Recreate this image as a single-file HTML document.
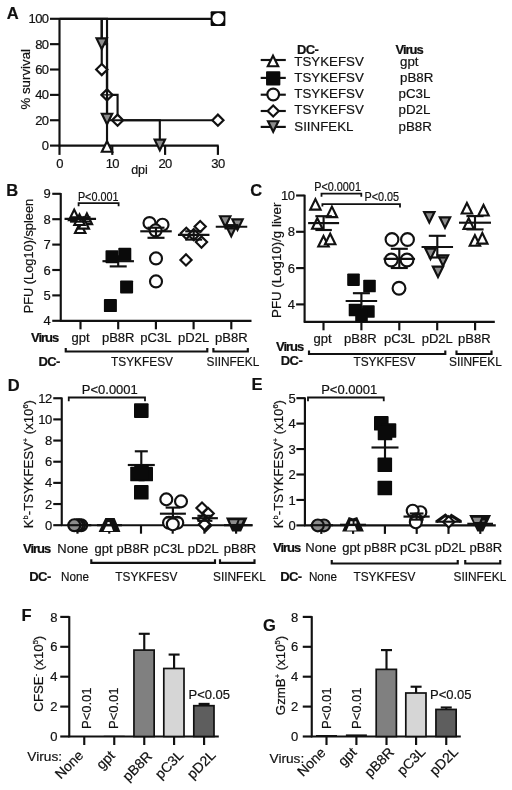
<!DOCTYPE html>
<html><head><meta charset="utf-8"><title>Figure</title>
<style>
html,body{margin:0;padding:0;background:#fff;}
body{width:512px;height:790px;overflow:hidden;font-family:"Liberation Sans",sans-serif;}
svg{display:block;}
svg{filter:grayscale(1);}
svg text{font-family:"Liberation Sans",sans-serif;fill:#111;stroke:#111;stroke-width:0.2px;}
</style></head><body>
<svg width="512" height="790" viewBox="0 0 512 790">
<rect width="512" height="790" fill="#fff"/>
<text transform="translate(6.8,19.2)" font-size="16.5" text-anchor="start" font-weight="bold">A</text>
<line x1="59.5" y1="18.05" x2="59.5" y2="146.35" stroke="#111" stroke-width="2.15" stroke-linecap="butt"/>
<line x1="58.75" y1="145.6" x2="218.65" y2="145.6" stroke="#111" stroke-width="2.15" stroke-linecap="butt"/>
<line x1="50" y1="145.6" x2="59.5" y2="145.6" stroke="#111" stroke-width="2.15" stroke-linecap="butt"/>
<text transform="translate(48.5,150.2)" font-size="13" text-anchor="end" letter-spacing="-0.6">0</text>
<line x1="50" y1="120.24" x2="59.5" y2="120.24" stroke="#111" stroke-width="2.15" stroke-linecap="butt"/>
<text transform="translate(48.5,124.84)" font-size="13" text-anchor="end" letter-spacing="-0.6">20</text>
<line x1="50" y1="94.88" x2="59.5" y2="94.88" stroke="#111" stroke-width="2.15" stroke-linecap="butt"/>
<text transform="translate(48.5,99.48)" font-size="13" text-anchor="end" letter-spacing="-0.6">40</text>
<line x1="50" y1="69.52" x2="59.5" y2="69.52" stroke="#111" stroke-width="2.15" stroke-linecap="butt"/>
<text transform="translate(48.5,74.12)" font-size="13" text-anchor="end" letter-spacing="-0.6">60</text>
<line x1="50" y1="44.16" x2="59.5" y2="44.16" stroke="#111" stroke-width="2.15" stroke-linecap="butt"/>
<text transform="translate(48.5,48.76)" font-size="13" text-anchor="end" letter-spacing="-0.6">80</text>
<line x1="50" y1="18.8" x2="59.5" y2="18.8" stroke="#111" stroke-width="2.15" stroke-linecap="butt"/>
<text transform="translate(48.5,23.4)" font-size="13" text-anchor="end" letter-spacing="-0.6">100</text>
<line x1="59.5" y1="145.6" x2="59.5" y2="154.9" stroke="#111" stroke-width="2.15" stroke-linecap="butt"/>
<text transform="translate(59.5,168.4)" font-size="13" text-anchor="middle" letter-spacing="-0.6">0</text>
<line x1="112.3" y1="145.6" x2="112.3" y2="154.9" stroke="#111" stroke-width="2.15" stroke-linecap="butt"/>
<text transform="translate(112.3,168.4)" font-size="13" text-anchor="middle" letter-spacing="-0.6">10</text>
<line x1="165.1" y1="145.6" x2="165.1" y2="154.9" stroke="#111" stroke-width="2.15" stroke-linecap="butt"/>
<text transform="translate(165.1,168.4)" font-size="13" text-anchor="middle" letter-spacing="-0.6">20</text>
<line x1="217.9" y1="145.6" x2="217.9" y2="154.9" stroke="#111" stroke-width="2.15" stroke-linecap="butt"/>
<text transform="translate(217.9,168.4)" font-size="13" text-anchor="middle" letter-spacing="-0.6">30</text>
<text transform="translate(29.6,79.3) rotate(-90)" font-size="13.3" text-anchor="middle">% survival</text>
<text transform="translate(139.5,173.5)" font-size="12.5" text-anchor="middle">dpi</text>
<path d="M59.5 18.8H107.02V145.6" stroke="#111" stroke-width="2.15" fill="none" stroke-linejoin="miter"/>
<path d="M101.82 151.75L112.22 151.75L107.02 141.2Z" stroke="#111" stroke-width="2.15" fill="#fff" stroke-linejoin="miter"/>
<line x1="59.5" y1="18.8" x2="217.9" y2="18.8" stroke="#111" stroke-width="2.15" stroke-linecap="butt"/>
<rect x="210.65" y="11.25" width="14.7" height="14.7" fill="#0a0a0a" rx="0.9"/>
<circle cx="218.1" cy="18.6" r="5.7" fill="#fff"/>
<path d="M101.74 18.8V69.52H107.02V94.88H117.58V120.24H217.9" stroke="#111" stroke-width="2.15" fill="none" stroke-linejoin="miter"/>
<path d="M96.14 69.52L101.74 63.92L107.34 69.52L101.74 75.12Z" stroke="#111" stroke-width="2.15" fill="#fff" stroke-linejoin="miter"/>
<path d="M101.42 94.88L107.02 89.28L112.62 94.88L107.02 100.48Z" stroke="#111" stroke-width="2.15" fill="#fff" stroke-linejoin="miter"/>
<path d="M111.98 120.24L117.58 114.64L123.18 120.24L117.58 125.84Z" stroke="#111" stroke-width="2.15" fill="#fff" stroke-linejoin="miter"/>
<path d="M212.3 120.24L217.9 114.64L223.5 120.24L217.9 125.84Z" stroke="#111" stroke-width="2.15" fill="#fff" stroke-linejoin="miter"/>
<line x1="102.02" y1="94.88" x2="112.02" y2="94.88" stroke="#111" stroke-width="1.4" stroke-linecap="butt"/>
<path d="M101.74 18.8V44.16H107.02V120.24H159.82V145.6" stroke="#111" stroke-width="2.15" fill="none" stroke-linejoin="miter"/>
<path d="M96.54 38.41L106.94 38.41L101.74 48.96Z" stroke="#111" stroke-width="2.15" fill="#8c8c8c" stroke-linejoin="miter"/>
<path d="M101.82 113.79L112.22 113.79L107.02 124.34Z" stroke="#111" stroke-width="2.15" fill="#8c8c8c" stroke-linejoin="miter"/>
<path d="M154.62 139.65L165.02 139.65L159.82 150.2Z" stroke="#111" stroke-width="2.15" fill="#8c8c8c" stroke-linejoin="miter"/>
<text transform="translate(297,54.3)" font-size="13" text-anchor="start" font-weight="bold" letter-spacing="-0.6">DC-</text>
<text transform="translate(395.5,54.3)" font-size="13" text-anchor="start" font-weight="bold" letter-spacing="-1">Virus</text>
<line x1="260.7" y1="60" x2="285.8" y2="60" stroke="#111" stroke-width="2.15" stroke-linecap="butt"/>
<line x1="260.7" y1="77.9" x2="285.8" y2="77.9" stroke="#111" stroke-width="2.15" stroke-linecap="butt"/>
<line x1="260.7" y1="94.7" x2="285.8" y2="94.7" stroke="#111" stroke-width="2.15" stroke-linecap="butt"/>
<line x1="260.7" y1="111" x2="285.8" y2="111" stroke="#111" stroke-width="2.15" stroke-linecap="butt"/>
<line x1="260.7" y1="126.9" x2="285.8" y2="126.9" stroke="#111" stroke-width="2.15" stroke-linecap="butt"/>
<path d="M267.8 66.25L278.2 66.25L273 55.7Z" stroke="#111" stroke-width="2.15" fill="#fff" stroke-linejoin="miter"/>
<rect x="266.05" y="71.15" width="14.3" height="14.3" fill="#0a0a0a" rx="0.9"/>
<circle cx="273.2" cy="94.5" r="5.85" fill="#fff" stroke="#111" stroke-width="2.15"/>
<path d="M267.6 111L273.2 105.4L278.8 111L273.2 116.6Z" stroke="#111" stroke-width="2.15" fill="#fff" stroke-linejoin="miter"/>
<path d="M268 121.25L278.4 121.25L273.2 131.8Z" stroke="#111" stroke-width="2.15" fill="#8c8c8c" stroke-linejoin="miter"/>
<text transform="translate(294.3,65.8)" font-size="13.3" text-anchor="start">TSYKEFSV</text>
<text transform="translate(400,65.8)" font-size="13.3" text-anchor="start">gpt</text>
<text transform="translate(294.3,82)" font-size="13.3" text-anchor="start">TSYKEFSV</text>
<text transform="translate(400,82)" font-size="13.3" text-anchor="start">pB8R</text>
<text transform="translate(294.3,98.2)" font-size="13.3" text-anchor="start">TSYKEFSV</text>
<text transform="translate(398.5,98.2)" font-size="13.3" text-anchor="start">pC3L</text>
<text transform="translate(294.3,114.4)" font-size="13.3" text-anchor="start">TSYKEFSV</text>
<text transform="translate(398.5,114.4)" font-size="13.3" text-anchor="start">pD2L</text>
<text transform="translate(294.3,130.6)" font-size="13.3" text-anchor="start">SIINFEKL</text>
<text transform="translate(398.5,130.6)" font-size="13.3" text-anchor="start">pB8R</text>
<text transform="translate(6.3,196.3)" font-size="16.5" text-anchor="start" font-weight="bold">B</text>
<line x1="60.75" y1="193.05" x2="60.75" y2="321.55" stroke="#111" stroke-width="2.15" stroke-linecap="butt"/>
<line x1="60" y1="320.8" x2="251.5" y2="320.8" stroke="#111" stroke-width="2.15" stroke-linecap="butt"/>
<line x1="52.25" y1="320.8" x2="60.75" y2="320.8" stroke="#111" stroke-width="2.15" stroke-linecap="butt"/>
<text transform="translate(50.75,325.4)" font-size="13" text-anchor="end">4</text>
<line x1="52.25" y1="295.4" x2="60.75" y2="295.4" stroke="#111" stroke-width="2.15" stroke-linecap="butt"/>
<text transform="translate(50.75,300)" font-size="13" text-anchor="end">5</text>
<line x1="52.25" y1="270" x2="60.75" y2="270" stroke="#111" stroke-width="2.15" stroke-linecap="butt"/>
<text transform="translate(50.75,274.6)" font-size="13" text-anchor="end">6</text>
<line x1="52.25" y1="244.6" x2="60.75" y2="244.6" stroke="#111" stroke-width="2.15" stroke-linecap="butt"/>
<text transform="translate(50.75,249.2)" font-size="13" text-anchor="end">7</text>
<line x1="52.25" y1="219.2" x2="60.75" y2="219.2" stroke="#111" stroke-width="2.15" stroke-linecap="butt"/>
<text transform="translate(50.75,223.8)" font-size="13" text-anchor="end">8</text>
<line x1="52.25" y1="193.8" x2="60.75" y2="193.8" stroke="#111" stroke-width="2.15" stroke-linecap="butt"/>
<text transform="translate(50.75,198.4)" font-size="13" text-anchor="end">9</text>
<text transform="translate(33.4,256.1) rotate(-90)" font-size="12.8" text-anchor="middle">PFU (Log10)/spleen</text>
<line x1="80.5" y1="320.8" x2="80.5" y2="329.3" stroke="#111" stroke-width="2.15" stroke-linecap="butt"/>
<text transform="translate(80.5,341.9)" font-size="13" text-anchor="middle">gpt</text>
<line x1="118.2" y1="320.8" x2="118.2" y2="329.3" stroke="#111" stroke-width="2.15" stroke-linecap="butt"/>
<text transform="translate(118.2,341.9)" font-size="13" text-anchor="middle">pB8R</text>
<line x1="155.9" y1="320.8" x2="155.9" y2="329.3" stroke="#111" stroke-width="2.15" stroke-linecap="butt"/>
<text transform="translate(155.9,341.9)" font-size="13" text-anchor="middle">pC3L</text>
<line x1="193.6" y1="320.8" x2="193.6" y2="329.3" stroke="#111" stroke-width="2.15" stroke-linecap="butt"/>
<text transform="translate(193.6,341.9)" font-size="13" text-anchor="middle">pD2L</text>
<line x1="231.3" y1="320.8" x2="231.3" y2="329.3" stroke="#111" stroke-width="2.15" stroke-linecap="butt"/>
<text transform="translate(231.3,341.9)" font-size="13" text-anchor="middle">pB8R</text>
<text transform="translate(31,341.9)" font-size="13" text-anchor="start" font-weight="bold" letter-spacing="-1">Virus</text>
<text transform="translate(38.5,366.2)" font-size="13" text-anchor="start" font-weight="bold" letter-spacing="-0.6">DC-</text>
<path d="M65.75 348V351.5H207.3V348" stroke="#111" stroke-width="2.15" fill="none" stroke-linejoin="miter"/>
<path d="M213.4 348V351.5H247.8V348" stroke="#111" stroke-width="2.15" fill="none" stroke-linejoin="miter"/>
<text transform="translate(142,366.2) scale(0.88,1)" font-size="13.5" text-anchor="middle">TSYKFESV</text>
<text transform="translate(206.5,366.2) scale(0.88,1)" font-size="13.5" text-anchor="start">SIINFEKL</text>
<text transform="translate(98.2,200.5) scale(0.88,1)" font-size="12.3" text-anchor="middle">P&lt;0.001</text>
<path d="M78.6 206.3V203.1H118.6V206.3" stroke="#111" stroke-width="1.8" fill="none" stroke-linejoin="miter"/>
<path d="M69 220.15L79.4 220.15L74.2 209.6Z" stroke="#111" stroke-width="2.15" fill="#fff" stroke-linejoin="miter"/>
<path d="M81.7 224.05L92.1 224.05L86.9 213.5Z" stroke="#111" stroke-width="2.15" fill="#fff" stroke-linejoin="miter"/>
<path d="M75 232.95L85.4 232.95L80.2 222.4Z" stroke="#111" stroke-width="2.15" fill="#fff" stroke-linejoin="miter"/>
<path d="M78.6 228.65L89 228.65L83.8 218.1Z" stroke="#111" stroke-width="2.15" fill="#fff" stroke-linejoin="miter"/>
<path d="M74.3 224.95L84.7 224.95L79.5 214.4Z" stroke="#111" stroke-width="2.15" fill="#fff" stroke-linejoin="miter"/>
<line x1="64.55" y1="218.9" x2="96.05" y2="218.9" stroke="#111" stroke-width="2.15" stroke-linecap="butt"/>
<line x1="80.3" y1="217.3" x2="80.3" y2="221.6" stroke="#111" stroke-width="2.15" stroke-linecap="butt"/>
<line x1="70.05" y1="217.3" x2="90.55" y2="217.3" stroke="#111" stroke-width="2.15" stroke-linecap="butt"/>
<line x1="70.05" y1="221.6" x2="90.55" y2="221.6" stroke="#111" stroke-width="2.15" stroke-linecap="butt"/>
<line x1="102.45" y1="261.2" x2="133.95" y2="261.2" stroke="#111" stroke-width="2.15" stroke-linecap="butt"/>
<line x1="118.2" y1="256.3" x2="118.2" y2="266.4" stroke="#111" stroke-width="2.15" stroke-linecap="butt"/>
<line x1="109.7" y1="256.3" x2="126.7" y2="256.3" stroke="#111" stroke-width="2.15" stroke-linecap="butt"/>
<line x1="109.7" y1="266.4" x2="126.7" y2="266.4" stroke="#111" stroke-width="2.15" stroke-linecap="butt"/>
<rect x="105.5" y="250.2" width="13" height="13" fill="#0a0a0a" rx="0.9"/>
<rect x="118.3" y="247.8" width="13" height="13" fill="#0a0a0a" rx="0.9"/>
<rect x="120.1" y="280.4" width="13" height="13" fill="#0a0a0a" rx="0.9"/>
<rect x="103.9" y="299.1" width="13" height="13" fill="#0a0a0a" rx="0.9"/>
<circle cx="149.5" cy="223.1" r="6" fill="#fff" stroke="#111" stroke-width="2.15"/>
<circle cx="162.5" cy="224.7" r="6" fill="#fff" stroke="#111" stroke-width="2.15"/>
<circle cx="155.6" cy="230.4" r="6" fill="#fff" stroke="#111" stroke-width="2.15"/>
<circle cx="156" cy="258.4" r="6" fill="#fff" stroke="#111" stroke-width="2.15"/>
<circle cx="156" cy="281.4" r="6" fill="#fff" stroke="#111" stroke-width="2.15"/>
<line x1="140.25" y1="231.3" x2="171.75" y2="231.3" stroke="#111" stroke-width="2.15" stroke-linecap="butt"/>
<line x1="156" y1="227.7" x2="156" y2="237.8" stroke="#111" stroke-width="2.15" stroke-linecap="butt"/>
<line x1="147.5" y1="227.7" x2="164.5" y2="227.7" stroke="#111" stroke-width="2.15" stroke-linecap="butt"/>
<line x1="147.5" y1="237.8" x2="164.5" y2="237.8" stroke="#111" stroke-width="2.15" stroke-linecap="butt"/>
<path d="M194.6 226.5L200.2 220.9L205.8 226.5L200.2 232.1Z" stroke="#111" stroke-width="2.15" fill="#fff" stroke-linejoin="miter"/>
<path d="M180.7 233.3L186.3 227.7L191.9 233.3L186.3 238.9Z" stroke="#111" stroke-width="2.15" fill="#fff" stroke-linejoin="miter"/>
<path d="M188.15 234.7L193.75 229.1L199.35 234.7L193.75 240.3Z" stroke="#111" stroke-width="2.15" fill="#fff" stroke-linejoin="miter"/>
<path d="M195.9 242.1L201.5 236.5L207.1 242.1L201.5 247.7Z" stroke="#111" stroke-width="2.15" fill="#fff" stroke-linejoin="miter"/>
<path d="M180.4 259.9L186 254.3L191.6 259.9L186 265.5Z" stroke="#111" stroke-width="2.15" fill="#fff" stroke-linejoin="miter"/>
<line x1="177.95" y1="234.8" x2="209.45" y2="234.8" stroke="#111" stroke-width="2.15" stroke-linecap="butt"/>
<line x1="193.7" y1="231.3" x2="193.7" y2="239.6" stroke="#111" stroke-width="2.15" stroke-linecap="butt"/>
<line x1="185.2" y1="231.3" x2="202.2" y2="231.3" stroke="#111" stroke-width="2.15" stroke-linecap="butt"/>
<line x1="185.2" y1="239.6" x2="202.2" y2="239.6" stroke="#111" stroke-width="2.15" stroke-linecap="butt"/>
<path d="M220 216.25L230.4 216.25L225.2 226.8Z" stroke="#111" stroke-width="2.15" fill="#8c8c8c" stroke-linejoin="miter"/>
<path d="M232.3 219.35L242.7 219.35L237.5 229.9Z" stroke="#111" stroke-width="2.15" fill="#8c8c8c" stroke-linejoin="miter"/>
<path d="M226.05 225.65L236.45 225.65L231.25 236.2Z" stroke="#111" stroke-width="2.15" fill="#8c8c8c" stroke-linejoin="miter"/>
<line x1="215.75" y1="226.7" x2="247.25" y2="226.7" stroke="#111" stroke-width="2.15" stroke-linecap="butt"/>
<line x1="231.5" y1="225.2" x2="231.5" y2="228.4" stroke="#111" stroke-width="2.15" stroke-linecap="butt"/>
<line x1="224.5" y1="225.2" x2="238.5" y2="225.2" stroke="#111" stroke-width="2.15" stroke-linecap="butt"/>
<line x1="224.5" y1="228.4" x2="238.5" y2="228.4" stroke="#111" stroke-width="2.15" stroke-linecap="butt"/>
<text transform="translate(250.3,196.3)" font-size="16.5" text-anchor="start" font-weight="bold">C</text>
<line x1="304.6" y1="194.75" x2="304.6" y2="322.55" stroke="#111" stroke-width="2.15" stroke-linecap="butt"/>
<line x1="303.85" y1="321.8" x2="494.8" y2="321.8" stroke="#111" stroke-width="2.15" stroke-linecap="butt"/>
<line x1="296.1" y1="304.4" x2="304.6" y2="304.4" stroke="#111" stroke-width="2.15" stroke-linecap="butt"/>
<text transform="translate(294.6,309)" font-size="13" text-anchor="end" letter-spacing="-0.4">4</text>
<line x1="296.1" y1="268.1" x2="304.6" y2="268.1" stroke="#111" stroke-width="2.15" stroke-linecap="butt"/>
<text transform="translate(294.6,272.7)" font-size="13" text-anchor="end" letter-spacing="-0.4">6</text>
<line x1="296.1" y1="231.8" x2="304.6" y2="231.8" stroke="#111" stroke-width="2.15" stroke-linecap="butt"/>
<text transform="translate(294.6,236.4)" font-size="13" text-anchor="end" letter-spacing="-0.4">8</text>
<line x1="296.1" y1="195.5" x2="304.6" y2="195.5" stroke="#111" stroke-width="2.15" stroke-linecap="butt"/>
<text transform="translate(294.6,200.1)" font-size="13" text-anchor="end" letter-spacing="-0.4">10</text>
<text transform="translate(281.2,260.3) rotate(-90)" font-size="13.3" text-anchor="middle">PFU (Log10)/g liver</text>
<line x1="323.5" y1="321.8" x2="323.5" y2="330.3" stroke="#111" stroke-width="2.15" stroke-linecap="butt"/>
<text transform="translate(322.6,343.3)" font-size="13" text-anchor="middle">gpt</text>
<line x1="361.4" y1="321.8" x2="361.4" y2="330.3" stroke="#111" stroke-width="2.15" stroke-linecap="butt"/>
<text transform="translate(360.3,343.3)" font-size="13" text-anchor="middle">pB8R</text>
<line x1="399.3" y1="321.8" x2="399.3" y2="330.3" stroke="#111" stroke-width="2.15" stroke-linecap="butt"/>
<text transform="translate(399.5,343.3)" font-size="13" text-anchor="middle">pC3L</text>
<line x1="437.2" y1="321.8" x2="437.2" y2="330.3" stroke="#111" stroke-width="2.15" stroke-linecap="butt"/>
<text transform="translate(437.2,343.3)" font-size="13" text-anchor="middle">pD2L</text>
<line x1="475.1" y1="321.8" x2="475.1" y2="330.3" stroke="#111" stroke-width="2.15" stroke-linecap="butt"/>
<text transform="translate(474.3,343.3)" font-size="13" text-anchor="middle">pB8R</text>
<text transform="translate(276,350.8)" font-size="13" text-anchor="start" font-weight="bold" letter-spacing="-1">Virus</text>
<text transform="translate(280.8,365.3)" font-size="13" text-anchor="start" font-weight="bold" letter-spacing="-0.6">DC-</text>
<path d="M309 350.5V354H445.3V350.5" stroke="#111" stroke-width="2.15" fill="none" stroke-linejoin="miter"/>
<path d="M456.5 350.5V354H491.5V350.5" stroke="#111" stroke-width="2.15" fill="none" stroke-linejoin="miter"/>
<text transform="translate(384.4,365.7) scale(0.88,1)" font-size="13.5" text-anchor="middle">TSYKFESV</text>
<text transform="translate(449,365.7) scale(0.88,1)" font-size="13.5" text-anchor="start">SIINFEKL</text>
<text transform="translate(337.6,191) scale(0.88,1)" font-size="12.3" text-anchor="middle">P&lt;0.0001</text>
<path d="M321.5 196.8V193.6H361.3V196.8" stroke="#111" stroke-width="1.8" fill="none" stroke-linejoin="miter"/>
<text transform="translate(381.8,201.3) scale(0.88,1)" font-size="12.3" text-anchor="middle">P&lt;0.05</text>
<path d="M322.4 206.5V204.2H400V207.6" stroke="#111" stroke-width="1.8" fill="none" stroke-linejoin="miter"/>
<path d="M310.2 209.65L320.6 209.65L315.4 199.1Z" stroke="#111" stroke-width="2.15" fill="#fff" stroke-linejoin="miter"/>
<path d="M326.7 217.15L337.1 217.15L331.9 206.6Z" stroke="#111" stroke-width="2.15" fill="#fff" stroke-linejoin="miter"/>
<path d="M312.1 228.75L322.5 228.75L317.3 218.2Z" stroke="#111" stroke-width="2.15" fill="#fff" stroke-linejoin="miter"/>
<path d="M318.3 246.45L328.7 246.45L323.5 235.9Z" stroke="#111" stroke-width="2.15" fill="#fff" stroke-linejoin="miter"/>
<path d="M325 244.25L335.4 244.25L330.2 233.7Z" stroke="#111" stroke-width="2.15" fill="#fff" stroke-linejoin="miter"/>
<line x1="308.1" y1="223.1" x2="339.1" y2="223.1" stroke="#111" stroke-width="2.15" stroke-linecap="butt"/>
<line x1="323.6" y1="216.2" x2="323.6" y2="230" stroke="#111" stroke-width="2.15" stroke-linecap="butt"/>
<line x1="315.35" y1="216.2" x2="331.85" y2="216.2" stroke="#111" stroke-width="2.15" stroke-linecap="butt"/>
<line x1="315.35" y1="230" x2="331.85" y2="230" stroke="#111" stroke-width="2.15" stroke-linecap="butt"/>
<line x1="345.65" y1="301" x2="377.15" y2="301" stroke="#111" stroke-width="2.15" stroke-linecap="butt"/>
<line x1="361.4" y1="293.2" x2="361.4" y2="309" stroke="#111" stroke-width="2.15" stroke-linecap="butt"/>
<line x1="352.9" y1="293.2" x2="369.9" y2="293.2" stroke="#111" stroke-width="2.15" stroke-linecap="butt"/>
<line x1="352.9" y1="309" x2="369.9" y2="309" stroke="#111" stroke-width="2.15" stroke-linecap="butt"/>
<rect x="347.2" y="273.4" width="12.6" height="12.6" fill="#0a0a0a" rx="0.9"/>
<rect x="363.2" y="279.7" width="12.6" height="12.6" fill="#0a0a0a" rx="0.9"/>
<rect x="348.7" y="303.7" width="12.6" height="12.6" fill="#0a0a0a" rx="0.9"/>
<rect x="362.1" y="305.2" width="12.6" height="12.6" fill="#0a0a0a" rx="0.9"/>
<rect x="355.2" y="309.2" width="12.6" height="12.6" fill="#0a0a0a" rx="0.9"/>
<circle cx="392" cy="239.5" r="6.4" fill="#fff" stroke="#111" stroke-width="2.15"/>
<circle cx="407.5" cy="239.5" r="6.4" fill="#fff" stroke="#111" stroke-width="2.15"/>
<circle cx="391.3" cy="260" r="6.4" fill="#fff" stroke="#111" stroke-width="2.15"/>
<circle cx="407" cy="260" r="6.4" fill="#fff" stroke="#111" stroke-width="2.15"/>
<circle cx="399" cy="288.3" r="6.4" fill="#fff" stroke="#111" stroke-width="2.15"/>
<line x1="383.55" y1="258.8" x2="415.05" y2="258.8" stroke="#111" stroke-width="2.15" stroke-linecap="butt"/>
<line x1="399.3" y1="248.8" x2="399.3" y2="268" stroke="#111" stroke-width="2.15" stroke-linecap="butt"/>
<line x1="390.8" y1="248.8" x2="407.8" y2="248.8" stroke="#111" stroke-width="2.15" stroke-linecap="butt"/>
<line x1="390.8" y1="268" x2="407.8" y2="268" stroke="#111" stroke-width="2.15" stroke-linecap="butt"/>
<path d="M424.1 212.05L434.5 212.05L429.3 222.6Z" stroke="#111" stroke-width="2.15" fill="#8c8c8c" stroke-linejoin="miter"/>
<path d="M439.8 217.35L450.2 217.35L445 227.9Z" stroke="#111" stroke-width="2.15" fill="#8c8c8c" stroke-linejoin="miter"/>
<path d="M425.3 248.55L435.7 248.55L430.5 259.1Z" stroke="#111" stroke-width="2.15" fill="#8c8c8c" stroke-linejoin="miter"/>
<path d="M437.8 255.35L448.2 255.35L443 265.9Z" stroke="#111" stroke-width="2.15" fill="#8c8c8c" stroke-linejoin="miter"/>
<path d="M432.8 266.55L443.2 266.55L438 277.1Z" stroke="#111" stroke-width="2.15" fill="#8c8c8c" stroke-linejoin="miter"/>
<line x1="421.55" y1="247" x2="453.05" y2="247" stroke="#111" stroke-width="2.15" stroke-linecap="butt"/>
<line x1="437.3" y1="235.8" x2="437.3" y2="257.5" stroke="#111" stroke-width="2.15" stroke-linecap="butt"/>
<line x1="428.8" y1="235.8" x2="445.8" y2="235.8" stroke="#111" stroke-width="2.15" stroke-linecap="butt"/>
<line x1="428.8" y1="257.5" x2="445.8" y2="257.5" stroke="#111" stroke-width="2.15" stroke-linecap="butt"/>
<path d="M461.7 213.45L472.1 213.45L466.9 202.9Z" stroke="#111" stroke-width="2.15" fill="#fff" stroke-linejoin="miter"/>
<path d="M478.3 215.45L488.7 215.45L483.5 204.9Z" stroke="#111" stroke-width="2.15" fill="#fff" stroke-linejoin="miter"/>
<path d="M463.5 228.85L473.9 228.85L468.7 218.3Z" stroke="#111" stroke-width="2.15" fill="#fff" stroke-linejoin="miter"/>
<path d="M469.7 245.75L480.1 245.75L474.9 235.2Z" stroke="#111" stroke-width="2.15" fill="#fff" stroke-linejoin="miter"/>
<path d="M477.1 243.55L487.5 243.55L482.3 233Z" stroke="#111" stroke-width="2.15" fill="#fff" stroke-linejoin="miter"/>
<line x1="459" y1="222.7" x2="491" y2="222.7" stroke="#111" stroke-width="2.15" stroke-linecap="butt"/>
<line x1="475" y1="216.1" x2="475" y2="229.4" stroke="#111" stroke-width="2.15" stroke-linecap="butt"/>
<line x1="466.4" y1="216.1" x2="483.6" y2="216.1" stroke="#111" stroke-width="2.15" stroke-linecap="butt"/>
<line x1="466.4" y1="229.4" x2="483.6" y2="229.4" stroke="#111" stroke-width="2.15" stroke-linecap="butt"/>
<text transform="translate(7.8,390.5)" font-size="16.5" text-anchor="start" font-weight="bold">D</text>
<line x1="61.75" y1="397.49" x2="61.75" y2="525.95" stroke="#111" stroke-width="2.15" stroke-linecap="butt"/>
<line x1="61" y1="525.2" x2="252.5" y2="525.2" stroke="#111" stroke-width="2.15" stroke-linecap="butt"/>
<line x1="53.25" y1="525.2" x2="61.75" y2="525.2" stroke="#111" stroke-width="2.15" stroke-linecap="butt"/>
<text transform="translate(51.75,529.8)" font-size="13" text-anchor="end" letter-spacing="-0.5">0</text>
<line x1="53.25" y1="504.04" x2="61.75" y2="504.04" stroke="#111" stroke-width="2.15" stroke-linecap="butt"/>
<text transform="translate(51.75,508.64)" font-size="13" text-anchor="end" letter-spacing="-0.5">2</text>
<line x1="53.25" y1="482.88" x2="61.75" y2="482.88" stroke="#111" stroke-width="2.15" stroke-linecap="butt"/>
<text transform="translate(51.75,487.48)" font-size="13" text-anchor="end" letter-spacing="-0.5">4</text>
<line x1="53.25" y1="461.72" x2="61.75" y2="461.72" stroke="#111" stroke-width="2.15" stroke-linecap="butt"/>
<text transform="translate(51.75,466.32)" font-size="13" text-anchor="end" letter-spacing="-0.5">6</text>
<line x1="53.25" y1="440.56" x2="61.75" y2="440.56" stroke="#111" stroke-width="2.15" stroke-linecap="butt"/>
<text transform="translate(51.75,445.16)" font-size="13" text-anchor="end" letter-spacing="-0.5">8</text>
<line x1="53.25" y1="419.4" x2="61.75" y2="419.4" stroke="#111" stroke-width="2.15" stroke-linecap="butt"/>
<text transform="translate(51.75,424)" font-size="13" text-anchor="end" letter-spacing="-0.5">10</text>
<line x1="53.25" y1="398.24" x2="61.75" y2="398.24" stroke="#111" stroke-width="2.15" stroke-linecap="butt"/>
<text transform="translate(51.75,402.84)" font-size="13" text-anchor="end" letter-spacing="-0.5">12</text>
<text transform="translate(33.4,464.1) rotate(-90)" font-size="13.15" text-anchor="middle">K<tspan font-size="7.5" dy="-5">b</tspan><tspan dy="5">-TSYKFESV</tspan><tspan font-size="7.5" dy="-5">+</tspan><tspan dy="5"> (x10</tspan><tspan font-size="7.5" dy="-5">6</tspan><tspan dy="5">)</tspan></text>
<line x1="77.5" y1="525.2" x2="77.5" y2="533.7" stroke="#111" stroke-width="2.15" stroke-linecap="butt"/>
<text transform="translate(72.8,553.1)" font-size="13" text-anchor="middle">None</text>
<line x1="109.25" y1="525.2" x2="109.25" y2="533.7" stroke="#111" stroke-width="2.15" stroke-linecap="butt"/>
<text transform="translate(103.5,553.1)" font-size="13" text-anchor="middle">gpt</text>
<line x1="141" y1="525.2" x2="141" y2="533.7" stroke="#111" stroke-width="2.15" stroke-linecap="butt"/>
<text transform="translate(132.8,553.1)" font-size="13" text-anchor="middle">pB8R</text>
<line x1="172.7" y1="525.2" x2="172.7" y2="533.7" stroke="#111" stroke-width="2.15" stroke-linecap="butt"/>
<text transform="translate(168.8,553.1)" font-size="13" text-anchor="middle">pC3L</text>
<line x1="204.4" y1="525.2" x2="204.4" y2="533.7" stroke="#111" stroke-width="2.15" stroke-linecap="butt"/>
<text transform="translate(203.2,553.1)" font-size="13" text-anchor="middle">pD2L</text>
<line x1="236.1" y1="525.2" x2="236.1" y2="533.7" stroke="#111" stroke-width="2.15" stroke-linecap="butt"/>
<text transform="translate(240,553.1)" font-size="13" text-anchor="middle">pB8R</text>
<text transform="translate(23,553.1)" font-size="13" text-anchor="start" font-weight="bold" letter-spacing="-1">Virus</text>
<text transform="translate(29.3,580.5)" font-size="13" text-anchor="start" font-weight="bold" letter-spacing="-0.6">DC-</text>
<text transform="translate(75,580.5) scale(0.9,1)" font-size="13" text-anchor="middle">None</text>
<path d="M91.3 559.3V562.8H215V559.3" stroke="#111" stroke-width="2.15" fill="none" stroke-linejoin="miter"/>
<path d="M220 559.3V562.8H254.5V559.3" stroke="#111" stroke-width="2.15" fill="none" stroke-linejoin="miter"/>
<text transform="translate(146.3,580.5) scale(0.88,1)" font-size="13.5" text-anchor="middle">TSYKFESV</text>
<text transform="translate(213,580.5) scale(0.88,1)" font-size="13.5" text-anchor="start">SIINFEKL</text>
<text transform="translate(109.8,394.4)" font-size="13" text-anchor="middle">P&lt;0.0001</text>
<path d="M68.75 401.3V397.5H145V401.3" stroke="#111" stroke-width="1.8" fill="none" stroke-linejoin="miter"/>
<circle cx="81.2" cy="525.2" r="5.95" fill="#8c8c8c" stroke="#111" stroke-width="2.15"/>
<circle cx="79" cy="525.2" r="5.95" fill="#8c8c8c" stroke="#111" stroke-width="2.15"/>
<circle cx="77" cy="525.2" r="5.95" fill="#8c8c8c" stroke="#111" stroke-width="2.15"/>
<circle cx="74.3" cy="525.2" r="5.95" fill="#8c8c8c" stroke="#111" stroke-width="2.15"/>
<line x1="67" y1="525.2" x2="91.3" y2="525.2" stroke="#111" stroke-width="2.15" stroke-linecap="butt"/>
<path d="M100.4 530.8L106 519.1H113.9L118.8 530.8Z" stroke="#111" stroke-width="2.2" fill="#111" stroke-linejoin="miter"/>
<polygon points="103.7,530.9 113,530.9 111.4,526.3 106.1,526.3" fill="#fff"/>
<polygon points="107.6,522 109.6,522 109.8,524.1 107.2,524.1" fill="#e8e8e8"/>
<line x1="97" y1="525.2" x2="122" y2="525.2" stroke="#111" stroke-width="2.15" stroke-linecap="butt"/>
<line x1="127.8" y1="465" x2="154.8" y2="465" stroke="#111" stroke-width="2.15" stroke-linecap="butt"/>
<line x1="141.3" y1="451.3" x2="141.3" y2="478" stroke="#111" stroke-width="2.15" stroke-linecap="butt"/>
<line x1="134.8" y1="451.3" x2="147.8" y2="451.3" stroke="#111" stroke-width="2.15" stroke-linecap="butt"/>
<line x1="134.8" y1="478" x2="147.8" y2="478" stroke="#111" stroke-width="2.15" stroke-linecap="butt"/>
<rect x="134" y="403.3" width="14.6" height="14.6" fill="#0a0a0a" rx="0.9"/>
<rect x="130.2" y="466.7" width="14.6" height="14.6" fill="#0a0a0a" rx="0.9"/>
<rect x="138.4" y="466.7" width="14.6" height="14.6" fill="#0a0a0a" rx="0.9"/>
<rect x="134.2" y="464.7" width="14.6" height="14.6" fill="#0a0a0a" rx="0.9"/>
<rect x="134" y="485" width="14.6" height="14.6" fill="#0a0a0a" rx="0.9"/>
<circle cx="166.3" cy="499.4" r="5.95" fill="#fff" stroke="#111" stroke-width="2.15"/>
<circle cx="181" cy="501.4" r="5.95" fill="#fff" stroke="#111" stroke-width="2.15"/>
<circle cx="169" cy="522.8" r="5.95" fill="#fff" stroke="#111" stroke-width="2.15"/>
<circle cx="177.3" cy="522.8" r="5.95" fill="#fff" stroke="#111" stroke-width="2.15"/>
<circle cx="172.8" cy="524.3" r="5.95" fill="#fff" stroke="#111" stroke-width="2.15"/>
<line x1="159.9" y1="513.7" x2="185.9" y2="513.7" stroke="#111" stroke-width="2.15" stroke-linecap="butt"/>
<line x1="172.9" y1="507.6" x2="172.9" y2="517.4" stroke="#111" stroke-width="2.15" stroke-linecap="butt"/>
<line x1="165.65" y1="507.6" x2="180.15" y2="507.6" stroke="#111" stroke-width="2.15" stroke-linecap="butt"/>
<line x1="165.65" y1="517.4" x2="180.15" y2="517.4" stroke="#111" stroke-width="2.15" stroke-linecap="butt"/>
<path d="M196.4 508L202 502.4L207.6 508L202 513.6Z" stroke="#111" stroke-width="2.15" fill="#fff" stroke-linejoin="miter"/>
<path d="M202.6 513.5L208.2 507.9L213.8 513.5L208.2 519.1Z" stroke="#111" stroke-width="2.15" fill="#fff" stroke-linejoin="miter"/>
<path d="M197.9 519.5L203.5 513.9L209.1 519.5L203.5 525.1Z" stroke="#111" stroke-width="2.15" fill="#fff" stroke-linejoin="miter"/>
<path d="M200 525.6L205.6 520L211.2 525.6L205.6 531.2Z" stroke="#111" stroke-width="2.15" fill="#fff" stroke-linejoin="miter"/>
<path d="M198.9 524.3L204.5 518.7L210.1 524.3L204.5 529.9Z" stroke="#111" stroke-width="2.15" fill="#fff" stroke-linejoin="miter"/>
<line x1="191.9" y1="518.2" x2="217.9" y2="518.2" stroke="#111" stroke-width="2.15" stroke-linecap="butt"/>
<line x1="204.9" y1="515.8" x2="204.9" y2="520.8" stroke="#111" stroke-width="2.15" stroke-linecap="butt"/>
<line x1="197.4" y1="515.8" x2="212.4" y2="515.8" stroke="#111" stroke-width="2.15" stroke-linecap="butt"/>
<line x1="197.4" y1="520.8" x2="212.4" y2="520.8" stroke="#111" stroke-width="2.15" stroke-linecap="butt"/>
<path d="M227.6 518.5H245.8L240.4 530.3H232.8Z" stroke="#111" stroke-width="2.2" fill="#111" stroke-linejoin="miter"/>
<polygon points="229.6,520.2 237.6,520.2 236,523.9 231.2,523.9" fill="#8c8c8c"/>
<polygon points="239.6,520.2 243,520.2 241.4,523.8 238.4,523.8" fill="#8c8c8c"/>
<line x1="224" y1="525.2" x2="252.5" y2="525.2" stroke="#111" stroke-width="2.15" stroke-linecap="butt"/>
<text transform="translate(251.5,390)" font-size="16.5" text-anchor="start" font-weight="bold">E</text>
<line x1="304.9" y1="397.4" x2="304.9" y2="526.15" stroke="#111" stroke-width="2.15" stroke-linecap="butt"/>
<line x1="304.15" y1="525.4" x2="495.8" y2="525.4" stroke="#111" stroke-width="2.15" stroke-linecap="butt"/>
<line x1="296.4" y1="525.4" x2="304.9" y2="525.4" stroke="#111" stroke-width="2.15" stroke-linecap="butt"/>
<text transform="translate(295.7,530)" font-size="13" text-anchor="end">0</text>
<line x1="296.4" y1="499.95" x2="304.9" y2="499.95" stroke="#111" stroke-width="2.15" stroke-linecap="butt"/>
<text transform="translate(295.7,504.55)" font-size="13" text-anchor="end">1</text>
<line x1="296.4" y1="474.5" x2="304.9" y2="474.5" stroke="#111" stroke-width="2.15" stroke-linecap="butt"/>
<text transform="translate(295.7,479.1)" font-size="13" text-anchor="end">2</text>
<line x1="296.4" y1="449.05" x2="304.9" y2="449.05" stroke="#111" stroke-width="2.15" stroke-linecap="butt"/>
<text transform="translate(295.7,453.65)" font-size="13" text-anchor="end">3</text>
<line x1="296.4" y1="423.6" x2="304.9" y2="423.6" stroke="#111" stroke-width="2.15" stroke-linecap="butt"/>
<text transform="translate(295.7,428.2)" font-size="13" text-anchor="end">4</text>
<line x1="296.4" y1="398.15" x2="304.9" y2="398.15" stroke="#111" stroke-width="2.15" stroke-linecap="butt"/>
<text transform="translate(295.7,402.75)" font-size="13" text-anchor="end">5</text>
<text transform="translate(283.3,464.1) rotate(-90)" font-size="13.15" text-anchor="middle">K<tspan font-size="7.5" dy="-5">b</tspan><tspan dy="5">-TSYKFESV</tspan><tspan font-size="7.5" dy="-5">+</tspan><tspan dy="5"> (x10</tspan><tspan font-size="7.5" dy="-5">6</tspan><tspan dy="5">)</tspan></text>
<line x1="321.3" y1="525.4" x2="321.3" y2="533.9" stroke="#111" stroke-width="2.15" stroke-linecap="butt"/>
<text transform="translate(320.9,552.4)" font-size="13" text-anchor="middle">None</text>
<line x1="353.1" y1="525.4" x2="353.1" y2="533.9" stroke="#111" stroke-width="2.15" stroke-linecap="butt"/>
<text transform="translate(351.4,552.4)" font-size="13" text-anchor="middle">gpt</text>
<line x1="384.9" y1="525.4" x2="384.9" y2="533.9" stroke="#111" stroke-width="2.15" stroke-linecap="butt"/>
<text transform="translate(380.3,552.4)" font-size="13" text-anchor="middle">pB8R</text>
<line x1="416.7" y1="525.4" x2="416.7" y2="533.9" stroke="#111" stroke-width="2.15" stroke-linecap="butt"/>
<text transform="translate(415.6,552.4)" font-size="13" text-anchor="middle">pC3L</text>
<line x1="448.5" y1="525.4" x2="448.5" y2="533.9" stroke="#111" stroke-width="2.15" stroke-linecap="butt"/>
<text transform="translate(450.2,552.4)" font-size="13" text-anchor="middle">pD2L</text>
<line x1="480.3" y1="525.4" x2="480.3" y2="533.9" stroke="#111" stroke-width="2.15" stroke-linecap="butt"/>
<text transform="translate(485.8,552.4)" font-size="13" text-anchor="middle">pB8R</text>
<text transform="translate(273,552.4)" font-size="13" text-anchor="start" font-weight="bold" letter-spacing="-1">Virus</text>
<text transform="translate(280.2,580.6)" font-size="13" text-anchor="start" font-weight="bold" letter-spacing="-0.6">DC-</text>
<text transform="translate(322.9,580.6) scale(0.9,1)" font-size="13" text-anchor="middle">None</text>
<path d="M331.75 560V563.5H457.75V560" stroke="#111" stroke-width="2.15" fill="none" stroke-linejoin="miter"/>
<path d="M465.25 560V563.5H500.25V560" stroke="#111" stroke-width="2.15" fill="none" stroke-linejoin="miter"/>
<text transform="translate(384.4,580.6) scale(0.88,1)" font-size="13.5" text-anchor="middle">TSYKFESV</text>
<text transform="translate(453.5,580.6) scale(0.88,1)" font-size="13.5" text-anchor="start">SIINFEKL</text>
<text transform="translate(349.2,394.4)" font-size="13" text-anchor="middle">P&lt;0.0001</text>
<path d="M308 401.2V397.5H383.75V401.2" stroke="#111" stroke-width="1.8" fill="none" stroke-linejoin="miter"/>
<circle cx="324" cy="525.4" r="5.95" fill="#8c8c8c" stroke="#111" stroke-width="2.15"/>
<circle cx="317.8" cy="525.4" r="5.95" fill="#8c8c8c" stroke="#111" stroke-width="2.15"/>
<line x1="310" y1="525.2" x2="333" y2="525.2" stroke="#111" stroke-width="2.15" stroke-linecap="butt"/>
<path d="M343.8 530.4L349.3 518.3L352.9 519.6L356.6 518.3L362.2 530.4Z" stroke="#111" stroke-width="2.2" fill="#111" stroke-linejoin="miter"/>
<polygon points="346.7,530.4 356.6,530.4 354.9,525.8 348.8,525.8" fill="#fff"/>
<polygon points="350.4,521.2 352.5,521.2 352.7,523.9 350,523.9" fill="#f0f0f0"/>
<polygon points="354.6,521.3 356.2,521.3 356.6,523.8 354.4,523.8" fill="#e6e6e6"/>
<line x1="340" y1="524.9" x2="366" y2="524.9" stroke="#111" stroke-width="2.4" stroke-linecap="butt"/>
<line x1="371.5" y1="447.5" x2="398.5" y2="447.5" stroke="#111" stroke-width="2.15" stroke-linecap="butt"/>
<line x1="385" y1="434" x2="385" y2="461" stroke="#111" stroke-width="2.15" stroke-linecap="butt"/>
<line x1="378.5" y1="434" x2="391.5" y2="434" stroke="#111" stroke-width="2.15" stroke-linecap="butt"/>
<line x1="378.5" y1="461" x2="391.5" y2="461" stroke="#111" stroke-width="2.15" stroke-linecap="butt"/>
<rect x="374" y="416" width="14.6" height="14.6" fill="#0a0a0a" rx="0.9"/>
<rect x="381.7" y="423.2" width="14.6" height="14.6" fill="#0a0a0a" rx="0.9"/>
<rect x="377.7" y="425.7" width="14.6" height="14.6" fill="#0a0a0a" rx="0.9"/>
<rect x="377.5" y="457.5" width="14.6" height="14.6" fill="#0a0a0a" rx="0.9"/>
<rect x="377.5" y="480.7" width="14.6" height="14.6" fill="#0a0a0a" rx="0.9"/>
<circle cx="420.4" cy="512.2" r="5.95" fill="#fff" stroke="#111" stroke-width="2.15"/>
<circle cx="412.7" cy="510.7" r="5.95" fill="#fff" stroke="#111" stroke-width="2.15"/>
<circle cx="416.3" cy="519.6" r="5.95" fill="none" stroke="#111" stroke-width="2.15"/>
<circle cx="415.8" cy="522.3" r="5.95" fill="#fff" stroke="#111" stroke-width="2.15"/>
<line x1="403.5" y1="516.6" x2="429.7" y2="516.6" stroke="#111" stroke-width="2.15" stroke-linecap="butt"/>
<line x1="416.6" y1="513.5" x2="416.6" y2="519.6" stroke="#111" stroke-width="2.15" stroke-linecap="butt"/>
<line x1="409.7" y1="513.5" x2="423.5" y2="513.5" stroke="#111" stroke-width="2.15" stroke-linecap="butt"/>
<line x1="409.7" y1="519.6" x2="423.5" y2="519.6" stroke="#111" stroke-width="2.15" stroke-linecap="butt"/>
<path d="M436.4 521.7L445.4 515.3L449.3 518.6" stroke="#111" stroke-width="3.2" fill="none" stroke-linejoin="miter"/>
<path d="M449.3 518.6L451.5 515.6L460.9 521.7" stroke="#111" stroke-width="3.2" fill="none" stroke-linejoin="miter"/>
<path d="M443.2 521.9L448.8 516.3L454.4 521.9L448.8 527.5Z" stroke="#111" stroke-width="2.15" fill="#fff" stroke-linejoin="miter"/>
<line x1="435.4" y1="521.7" x2="461.8" y2="521.7" stroke="#111" stroke-width="2.15" stroke-linecap="butt"/>
<path d="M471 516.1H489.3L482.6 530.4H478Z" stroke="#111" stroke-width="2.2" fill="#111" stroke-linejoin="miter"/>
<polygon points="472.7,517.7 481.2,517.7 479.3,522 474.6,522" fill="#8c8c8c"/>
<polygon points="482.5,520.4 484.9,520.4 484.3,521.7 482,521.7" fill="#8c8c8c"/>
<line x1="467.3" y1="523.8" x2="493" y2="523.8" stroke="#111" stroke-width="2.15" stroke-linecap="butt"/>
<text transform="translate(21.5,621.3)" font-size="16.5" text-anchor="start" font-weight="bold">F</text>
<line x1="69.25" y1="616.15" x2="69.25" y2="737.25" stroke="#111" stroke-width="2.15" stroke-linecap="butt"/>
<line x1="68.5" y1="736.5" x2="218.8" y2="736.5" stroke="#111" stroke-width="2.15" stroke-linecap="butt"/>
<line x1="60.25" y1="736.5" x2="69.25" y2="736.5" stroke="#111" stroke-width="2.15" stroke-linecap="butt"/>
<text transform="translate(57.55,741.1)" font-size="13" text-anchor="end">0</text>
<line x1="60.25" y1="706.6" x2="69.25" y2="706.6" stroke="#111" stroke-width="2.15" stroke-linecap="butt"/>
<text transform="translate(57.55,711.2)" font-size="13" text-anchor="end">2</text>
<line x1="60.25" y1="676.7" x2="69.25" y2="676.7" stroke="#111" stroke-width="2.15" stroke-linecap="butt"/>
<text transform="translate(57.55,681.3)" font-size="13" text-anchor="end">4</text>
<line x1="60.25" y1="646.8" x2="69.25" y2="646.8" stroke="#111" stroke-width="2.15" stroke-linecap="butt"/>
<text transform="translate(57.55,651.4)" font-size="13" text-anchor="end">6</text>
<line x1="60.25" y1="616.9" x2="69.25" y2="616.9" stroke="#111" stroke-width="2.15" stroke-linecap="butt"/>
<text transform="translate(57.55,621.5)" font-size="13" text-anchor="end">8</text>
<text transform="translate(43.2,673.7) rotate(-90)" font-size="13.25" text-anchor="middle">CFSE<tspan font-size="7.5" dy="-5">-</tspan><tspan dy="5"> (x10</tspan><tspan font-size="7.5" dy="-5">5</tspan><tspan dy="5">)</tspan></text>
<line x1="84.25" y1="736.5" x2="84.25" y2="745" stroke="#111" stroke-width="2.15" stroke-linecap="butt"/>
<rect x="73.75" y="736.05" width="21" height="0.45" fill="#111"/>
<line x1="114.25" y1="736.5" x2="114.25" y2="745" stroke="#111" stroke-width="2.15" stroke-linecap="butt"/>
<rect x="103.75" y="735.75" width="21" height="0.75" fill="#111"/>
<line x1="144.25" y1="736.5" x2="144.25" y2="745" stroke="#111" stroke-width="2.15" stroke-linecap="butt"/>
<line x1="144.25" y1="633.79" x2="144.25" y2="650.09" stroke="#111" stroke-width="2.15" stroke-linecap="butt"/>
<line x1="138.75" y1="633.79" x2="149.75" y2="633.79" stroke="#111" stroke-width="2.15" stroke-linecap="butt"/>
<rect x="133.95" y="650.09" width="20.2" height="86.41" fill="#808080" stroke="#111" stroke-width="1.7"/>
<line x1="174.1" y1="736.5" x2="174.1" y2="745" stroke="#111" stroke-width="2.15" stroke-linecap="butt"/>
<line x1="174.1" y1="654.57" x2="174.1" y2="668.48" stroke="#111" stroke-width="2.15" stroke-linecap="butt"/>
<line x1="168.6" y1="654.57" x2="179.6" y2="654.57" stroke="#111" stroke-width="2.15" stroke-linecap="butt"/>
<rect x="163.8" y="668.48" width="20.2" height="68.02" fill="#d6d6d6" stroke="#111" stroke-width="1.7"/>
<line x1="204.1" y1="736.5" x2="204.1" y2="745" stroke="#111" stroke-width="2.15" stroke-linecap="butt"/>
<line x1="204.1" y1="703.91" x2="204.1" y2="705.7" stroke="#111" stroke-width="2.15" stroke-linecap="butt"/>
<line x1="198.6" y1="703.91" x2="209.6" y2="703.91" stroke="#111" stroke-width="2.15" stroke-linecap="butt"/>
<rect x="193.8" y="705.7" width="20.2" height="30.8" fill="#5e5e5e" stroke="#111" stroke-width="1.7"/>
<text transform="translate(84.3,756.2) rotate(-45)" font-size="14" text-anchor="end">None</text>
<text transform="translate(115.7,756.4) rotate(-45)" font-size="14" text-anchor="end">gpt</text>
<text transform="translate(152.9,757.2) rotate(-45)" font-size="14" text-anchor="end">pB8R</text>
<text transform="translate(184.3,756) rotate(-45)" font-size="14" text-anchor="end">pC3L</text>
<text transform="translate(216.5,756) rotate(-45)" font-size="14" text-anchor="end">pD2L</text>
<text transform="translate(27.3,761.3)" font-size="13.7" text-anchor="start">Virus:</text>
<text transform="translate(90.8,729) rotate(-90)" font-size="13" text-anchor="start">P&lt;0.01</text>
<text transform="translate(117.8,729) rotate(-90)" font-size="13" text-anchor="start">P&lt;0.01</text>
<text transform="translate(188.5,698.8)" font-size="13" text-anchor="start">P&lt;0.05</text>
<text transform="translate(263,630.8)" font-size="16.5" text-anchor="start" font-weight="bold">G</text>
<line x1="311.75" y1="616.15" x2="311.75" y2="737.25" stroke="#111" stroke-width="2.15" stroke-linecap="butt"/>
<line x1="311" y1="736.5" x2="460.8" y2="736.5" stroke="#111" stroke-width="2.15" stroke-linecap="butt"/>
<line x1="302.75" y1="736.5" x2="311.75" y2="736.5" stroke="#111" stroke-width="2.15" stroke-linecap="butt"/>
<text transform="translate(298.25,741.1)" font-size="13" text-anchor="end">0</text>
<line x1="302.75" y1="706.6" x2="311.75" y2="706.6" stroke="#111" stroke-width="2.15" stroke-linecap="butt"/>
<text transform="translate(298.25,711.2)" font-size="13" text-anchor="end">2</text>
<line x1="302.75" y1="676.7" x2="311.75" y2="676.7" stroke="#111" stroke-width="2.15" stroke-linecap="butt"/>
<text transform="translate(298.25,681.3)" font-size="13" text-anchor="end">4</text>
<line x1="302.75" y1="646.8" x2="311.75" y2="646.8" stroke="#111" stroke-width="2.15" stroke-linecap="butt"/>
<text transform="translate(298.25,651.4)" font-size="13" text-anchor="end">6</text>
<line x1="302.75" y1="616.9" x2="311.75" y2="616.9" stroke="#111" stroke-width="2.15" stroke-linecap="butt"/>
<text transform="translate(298.25,621.5)" font-size="13" text-anchor="end">8</text>
<text transform="translate(284.6,675.5) rotate(-90)" font-size="13.25" text-anchor="middle">GzmB<tspan font-size="7.5" dy="-5">+</tspan><tspan dy="5"> (x10</tspan><tspan font-size="7.5" dy="-5">5</tspan><tspan dy="5">)</tspan></text>
<line x1="326.5" y1="736.5" x2="326.5" y2="745" stroke="#111" stroke-width="2.15" stroke-linecap="butt"/>
<rect x="316" y="735" width="21" height="1.5" fill="#111"/>
<line x1="356.4" y1="736.5" x2="356.4" y2="745" stroke="#111" stroke-width="2.15" stroke-linecap="butt"/>
<rect x="345.9" y="734.41" width="21" height="2.09" fill="#111"/>
<line x1="386.5" y1="736.5" x2="386.5" y2="745" stroke="#111" stroke-width="2.15" stroke-linecap="butt"/>
<line x1="386.5" y1="650.09" x2="386.5" y2="669.37" stroke="#111" stroke-width="2.15" stroke-linecap="butt"/>
<line x1="381" y1="650.09" x2="392" y2="650.09" stroke="#111" stroke-width="2.15" stroke-linecap="butt"/>
<rect x="376.2" y="669.37" width="20.2" height="67.13" fill="#808080" stroke="#111" stroke-width="1.7"/>
<line x1="416.1" y1="736.5" x2="416.1" y2="745" stroke="#111" stroke-width="2.15" stroke-linecap="butt"/>
<line x1="416.1" y1="686.72" x2="416.1" y2="693" stroke="#111" stroke-width="2.15" stroke-linecap="butt"/>
<line x1="410.6" y1="686.72" x2="421.6" y2="686.72" stroke="#111" stroke-width="2.15" stroke-linecap="butt"/>
<rect x="405.8" y="693" width="20.2" height="43.5" fill="#d6d6d6" stroke="#111" stroke-width="1.7"/>
<line x1="446.25" y1="736.5" x2="446.25" y2="745" stroke="#111" stroke-width="2.15" stroke-linecap="butt"/>
<line x1="446.25" y1="707.5" x2="446.25" y2="709.44" stroke="#111" stroke-width="2.15" stroke-linecap="butt"/>
<line x1="440.75" y1="707.5" x2="451.75" y2="707.5" stroke="#111" stroke-width="2.15" stroke-linecap="butt"/>
<rect x="435.95" y="709.44" width="20.2" height="27.06" fill="#5e5e5e" stroke="#111" stroke-width="1.7"/>
<text transform="translate(326.6,753.5) rotate(-45)" font-size="14" text-anchor="end">None</text>
<text transform="translate(357.4,753.2) rotate(-45)" font-size="14" text-anchor="end">gpt</text>
<text transform="translate(394.9,753.2) rotate(-45)" font-size="14" text-anchor="end">pB8R</text>
<text transform="translate(426.3,752.7) rotate(-45)" font-size="14" text-anchor="end">pC3L</text>
<text transform="translate(458.9,752.7) rotate(-45)" font-size="14" text-anchor="end">pD2L</text>
<text transform="translate(269.5,762.7)" font-size="13.7" text-anchor="start">Virus:</text>
<text transform="translate(331.3,729) rotate(-90)" font-size="13" text-anchor="start">P&lt;0.01</text>
<text transform="translate(360.5,729) rotate(-90)" font-size="13" text-anchor="start">P&lt;0.01</text>
<text transform="translate(430,699.3)" font-size="13" text-anchor="start">P&lt;0.05</text>
</svg>
</body></html>
